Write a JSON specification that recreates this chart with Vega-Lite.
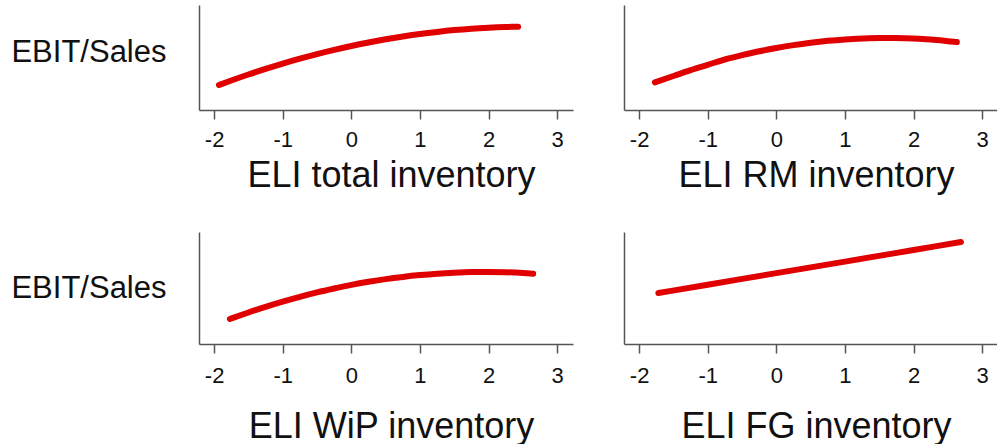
{
  "$schema": "https://vega.github.io/schema/vega-lite/v6.json",
  "padding": {"left": 10, "top": 5, "right": 0, "bottom": 0},
  "background": "white",
  "bounds": "flush",
  "spacing": 227,
  "config": {
    "view": {"stroke": null},
    "font": "Liberation Sans",
    "axis": {
      "grid": false,
      "domainColor": "#555555",
      "domainWidth": 1.5,
      "tickColor": "#555555",
      "tickWidth": 1.5,
      "labelColor": "#111111",
      "titleColor": "#111111",
      "titleFontWeight": "normal",
      "labelFont": "Liberation Sans",
      "titleFont": "Liberation Sans"
    }
  },
  "data": {
    "values": [
      {"panel": "total", "x": -1.93, "y": 25.0},
      {"panel": "total", "x": -1.75, "y": 29.5},
      {"panel": "total", "x": -1.5, "y": 35.5},
      {"panel": "total", "x": -1.25, "y": 41.1},
      {"panel": "total", "x": -1.0, "y": 46.4},
      {"panel": "total", "x": -0.75, "y": 51.3},
      {"panel": "total", "x": -0.5, "y": 55.9},
      {"panel": "total", "x": -0.25, "y": 60.1},
      {"panel": "total", "x": 0.0, "y": 64.0},
      {"panel": "total", "x": 0.25, "y": 67.5},
      {"panel": "total", "x": 0.5, "y": 70.7},
      {"panel": "total", "x": 0.75, "y": 73.5},
      {"panel": "total", "x": 1.0, "y": 76.0},
      {"panel": "total", "x": 1.25, "y": 78.1},
      {"panel": "total", "x": 1.5, "y": 79.9},
      {"panel": "total", "x": 1.75, "y": 81.3},
      {"panel": "total", "x": 2.0, "y": 82.3},
      {"panel": "total", "x": 2.25, "y": 83.0},
      {"panel": "total", "x": 2.43, "y": 83.3},

      {"panel": "RM", "x": -1.77, "y": 27.7},
      {"panel": "RM", "x": -1.5, "y": 34.0},
      {"panel": "RM", "x": -1.25, "y": 39.9},
      {"panel": "RM", "x": -1.0, "y": 45.2},
      {"panel": "RM", "x": -0.75, "y": 50.5},
      {"panel": "RM", "x": -0.5, "y": 54.8},
      {"panel": "RM", "x": -0.25, "y": 58.7},
      {"panel": "RM", "x": 0.0, "y": 62.0},
      {"panel": "RM", "x": 0.25, "y": 64.9},
      {"panel": "RM", "x": 0.5, "y": 67.3},
      {"panel": "RM", "x": 0.75, "y": 69.2},
      {"panel": "RM", "x": 1.0, "y": 70.6},
      {"panel": "RM", "x": 1.25, "y": 71.5},
      {"panel": "RM", "x": 1.5, "y": 72.0},
      {"panel": "RM", "x": 1.75, "y": 71.9},
      {"panel": "RM", "x": 2.0, "y": 71.4},
      {"panel": "RM", "x": 2.25, "y": 70.4},
      {"panel": "RM", "x": 2.5, "y": 68.8},
      {"panel": "RM", "x": 2.63, "y": 67.9},

      {"panel": "WiP", "x": -1.77, "y": 25.0},
      {"panel": "WiP", "x": -1.5, "y": 31.5},
      {"panel": "WiP", "x": -1.25, "y": 37.2},
      {"panel": "WiP", "x": -1.0, "y": 42.4},
      {"panel": "WiP", "x": -0.75, "y": 47.2},
      {"panel": "WiP", "x": -0.5, "y": 51.6},
      {"panel": "WiP", "x": -0.25, "y": 55.5},
      {"panel": "WiP", "x": 0.0, "y": 59.1},
      {"panel": "WiP", "x": 0.25, "y": 62.2},
      {"panel": "WiP", "x": 0.5, "y": 64.9},
      {"panel": "WiP", "x": 0.75, "y": 67.1},
      {"panel": "WiP", "x": 1.0, "y": 68.9},
      {"panel": "WiP", "x": 1.25, "y": 70.3},
      {"panel": "WiP", "x": 1.5, "y": 71.3},
      {"panel": "WiP", "x": 1.75, "y": 71.9},
      {"panel": "WiP", "x": 2.0, "y": 72.0},
      {"panel": "WiP", "x": 2.25, "y": 71.7},
      {"panel": "WiP", "x": 2.5, "y": 71.0},
      {"panel": "WiP", "x": 2.65, "y": 70.3},

      {"panel": "FG", "x": -1.72, "y": 51.0},
      {"panel": "FG", "x": -1.0, "y": 59.3},
      {"panel": "FG", "x": 0.0, "y": 70.9},
      {"panel": "FG", "x": 1.0, "y": 82.4},
      {"panel": "FG", "x": 2.0, "y": 94.0},
      {"panel": "FG", "x": 2.69, "y": 102.0}
    ]
  },
  "vconcat": [
    {
      "bounds": "flush",
      "spacing": 51,
      "hconcat": [
        {
          "width": 374,
          "height": 105,
          "transform": [{"filter": "datum.panel == 'total'"}],
          "mark": {"type": "line", "color": "#e00000", "strokeWidth": 6, "strokeCap": "round", "interpolate": "monotone"},
          "encoding": {
            "x": {
              "field": "x", "type": "quantitative",
              "scale": {"domain": [-2.22, 3.23], "nice": false, "zero": false},
              "axis": {
                "values": [-2, -1, 0, 1, 2, 3],
                "labelExpr": "datum.value < 0 ? '-' + abs(datum.value) : '' + datum.value",
                "labelFontSize": 22, "tickSize": 9, "labelPadding": 10, "labelFlush": false,
                "title": "ELI total inventory", "titleFontSize": 36,
                "titleX": 192, "titleY": 76, "titleBaseline": "alphabetic"
              }
            },
            "y": {
              "field": "y", "type": "quantitative",
              "scale": {"domain": [0, 105], "nice": false},
              "axis": {
                "ticks": false, "labels": false,
                "title": "EBIT/Sales", "titleFontSize": 31, "titleAngle": 0,
                "titleAlign": "right", "titleBaseline": "middle", "titleX": -33, "titleY": 47
              }
            }
          }
        },
        {
          "width": 374,
          "height": 105,
          "transform": [{"filter": "datum.panel == 'RM'"}],
          "mark": {"type": "line", "color": "#e00000", "strokeWidth": 6, "strokeCap": "round", "interpolate": "monotone"},
          "encoding": {
            "x": {
              "field": "x", "type": "quantitative",
              "scale": {"domain": [-2.22, 3.23], "nice": false, "zero": false},
              "axis": {
                "values": [-2, -1, 0, 1, 2, 3],
                "labelExpr": "datum.value < 0 ? '-' + abs(datum.value) : '' + datum.value",
                "labelFontSize": 22, "tickSize": 9, "labelPadding": 10, "labelFlush": false,
                "title": "ELI RM inventory", "titleFontSize": 36,
                "titleX": 192, "titleY": 76, "titleBaseline": "alphabetic"
              }
            },
            "y": {
              "field": "y", "type": "quantitative",
              "scale": {"domain": [0, 105], "nice": false},
              "axis": {"ticks": false, "labels": false, "title": null}
            }
          }
        }
      ]
    },
    {
      "bounds": "flush",
      "spacing": 51,
      "hconcat": [
        {
          "width": 374,
          "height": 112,
          "transform": [{"filter": "datum.panel == 'WiP'"}],
          "mark": {"type": "line", "color": "#e00000", "strokeWidth": 6, "strokeCap": "round", "interpolate": "monotone"},
          "encoding": {
            "x": {
              "field": "x", "type": "quantitative",
              "scale": {"domain": [-2.22, 3.23], "nice": false, "zero": false},
              "axis": {
                "values": [-2, -1, 0, 1, 2, 3],
                "labelExpr": "datum.value < 0 ? '-' + abs(datum.value) : '' + datum.value",
                "labelFontSize": 22, "tickSize": 9, "labelPadding": 12, "labelFlush": false,
                "title": "ELI WiP inventory", "titleFontSize": 36,
                "titleX": 192, "titleY": 93, "titleBaseline": "alphabetic"
              }
            },
            "y": {
              "field": "y", "type": "quantitative",
              "scale": {"domain": [0, 112], "nice": false},
              "axis": {
                "ticks": false, "labels": false,
                "title": "EBIT/Sales", "titleFontSize": 31, "titleAngle": 0,
                "titleAlign": "right", "titleBaseline": "middle", "titleX": -33, "titleY": 56
              }
            }
          }
        },
        {
          "width": 374,
          "height": 112,
          "transform": [{"filter": "datum.panel == 'FG'"}],
          "mark": {"type": "line", "color": "#e00000", "strokeWidth": 6, "strokeCap": "round", "interpolate": "monotone"},
          "encoding": {
            "x": {
              "field": "x", "type": "quantitative",
              "scale": {"domain": [-2.22, 3.23], "nice": false, "zero": false},
              "axis": {
                "values": [-2, -1, 0, 1, 2, 3],
                "labelExpr": "datum.value < 0 ? '-' + abs(datum.value) : '' + datum.value",
                "labelFontSize": 22, "tickSize": 9, "labelPadding": 12, "labelFlush": false,
                "title": "ELI FG inventory", "titleFontSize": 36,
                "titleX": 192, "titleY": 93, "titleBaseline": "alphabetic"
              }
            },
            "y": {
              "field": "y", "type": "quantitative",
              "scale": {"domain": [0, 112], "nice": false},
              "axis": {"ticks": false, "labels": false, "title": null}
            }
          }
        }
      ]
    }
  ]
}
